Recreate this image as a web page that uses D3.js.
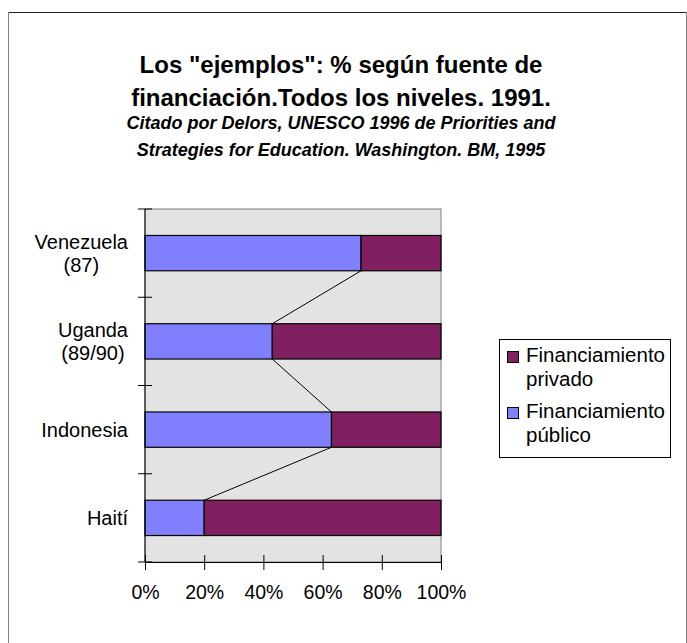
<!DOCTYPE html>
<html>
<head>
<meta charset="utf-8">
<script src="https://cdn.jsdelivr.net/npm/d3@7"></script>
<style>
    body { margin: 0; background: #fff; }
    svg { font-family: "Liberation Sans", Arial, sans-serif; }
</style>
</head>
<body>
<svg width="687" height="643"></svg>
<script>
// categories top to bottom, each label line separately
var categories = ["Venezuela (87)", "Uganda (89/90)", "Indonesia", "Haití"];
var categoryLines = [["Venezuela", "(87)"], ["Uganda", "(89/90)"], ["Indonesia"], ["Haití"]];
var publico = [73, 43, 63, 20];
var privado = [27, 57, 37, 80];
var tickValues = [0, 20, 40, 60, 80, 100];
var titleLines = ["Los \"ejemplos\": % según fuente de", "financiación.Todos los niveles. 1991."];
var subtitleLines = ["Citado por Delors, UNESCO 1996 de Priorities and", "Strategies for Education. Washington. BM, 1995"];
var seriesNames = ["Financiamiento privado", "Financiamiento público"];

var colorPublico = "#8080ff";
var colorPrivado = "#802060";

var svg = d3.select("svg");

var plot = { left: 145, top: 209, width: 296, height: 353 };

var xScale = d3.scaleLinear([0, 100], [plot.left, plot.left + plot.width]);
var yScale = d3.scaleBand(categories, [plot.top, plot.top + plot.height])
    .paddingInner(0.6)
    .paddingOuter(0.3);

// Chart frame (bottom edge is outside the picture)
svg.append("line").attr("x1", 8).attr("y1", 12.5).attr("x2", 687).attr("y2", 12.5)
    .attr("stroke", "#222").attr("stroke-width", 1);
svg.append("line").attr("x1", 8.5).attr("y1", 12).attr("x2", 8.5).attr("y2", 643)
    .attr("stroke", "#808080").attr("stroke-width", 1);
svg.append("line").attr("x1", 686.5).attr("y1", 12).attr("x2", 686.5).attr("y2", 643)
    .attr("stroke", "#808080").attr("stroke-width", 1);

// Title
var titleX = 341;
svg.selectAll(".title")
    .data(titleLines)
    .enter()
        .append("text")
        .attr("class", "title")
        .attr("x", titleX)
        .attr("y", function(d, i) { return 73 + i * 33; })
        .attr("text-anchor", "middle")
        .style("font-size", "24px")
        .style("font-weight", "bold")
        .text(function(d) { return d; });

svg.selectAll(".subtitle")
    .data(subtitleLines)
    .enter()
        .append("text")
        .attr("class", "subtitle")
        .attr("x", titleX)
        .attr("y", function(d, i) { return 129 + i * 27; })
        .attr("text-anchor", "middle")
        .style("font-size", "18px")
        .style("font-weight", "bold")
        .style("font-style", "italic")
        .text(function(d) { return d; });

// Plot area
svg.append("rect")
    .attr("x", plot.left)
    .attr("y", plot.top)
    .attr("width", plot.width)
    .attr("height", plot.height)
    .attr("fill", "#e3e3e3")
    .attr("stroke", "#808080")
    .attr("stroke-width", 1);

// Series lines between the public segments
var linePoints = [];
for (var i = 0; i < categories.length - 1; i++) {
    linePoints.push([
        xScale(publico[i]), yScale(categories[i]) + yScale.bandwidth(),
        xScale(publico[i + 1]), yScale(categories[i + 1])
    ]);
}
svg.append("g")
    .selectAll("line")
    .data(linePoints)
    .enter()
        .append("line")
        .attr("x1", function(d) { return d[0]; })
        .attr("y1", function(d) { return d[1]; })
        .attr("x2", function(d) { return d[2]; })
        .attr("y2", function(d) { return d[3]; })
        .attr("stroke", "#000")
        .attr("stroke-width", 1);

// Bars
var bars = svg.append("g");
bars.selectAll(".pub")
    .data(publico)
    .enter()
        .append("rect")
        .attr("class", "pub")
        .attr("x", xScale(0))
        .attr("y", function(d, i) { return yScale(categories[i]); })
        .attr("width", function(d) { return xScale(d) - xScale(0); })
        .attr("height", yScale.bandwidth())
        .attr("fill", colorPublico)
        .attr("stroke", "#000")
        .attr("stroke-width", 1.2);

bars.selectAll(".priv")
    .data(privado)
    .enter()
        .append("rect")
        .attr("class", "priv")
        .attr("x", function(d, i) { return xScale(publico[i]); })
        .attr("y", function(d, i) { return yScale(categories[i]); })
        .attr("width", function(d, i) { return xScale(publico[i] + d) - xScale(publico[i]); })
        .attr("height", yScale.bandwidth())
        .attr("fill", colorPrivado)
        .attr("stroke", "#000")
        .attr("stroke-width", 1.2);

// X axis
var xAxis = d3.axisBottom(xScale)
    .tickValues(tickValues)
    .tickFormat(function(d) { return d + "%"; })
    .tickSizeInner(8)
    .tickSizeOuter(0)
    .tickPadding(15);

var xAxisG = svg.append("g")
    .attr("transform", "translate(0, " + (plot.top + plot.height) + ")")
    .call(xAxis);
xAxisG.select(".domain").attr("stroke", "#000");
xAxisG.selectAll(".tick line").attr("y1", -7).attr("stroke", "#000");
xAxisG.selectAll(".tick text")
    .attr("fill", "#000")
    .style("font-size", "19.5px")
    .style("font-family", "'Liberation Sans', Arial, sans-serif");

// Y axis line and ticks at category boundaries
svg.append("line")
    .attr("x1", plot.left).attr("y1", plot.top)
    .attr("x2", plot.left).attr("y2", plot.top + plot.height)
    .attr("stroke", "#000");
var boundaries = d3.range(categories.length + 1).map(function(i) {
    return plot.top + i * yScale.step();
});
svg.append("g")
    .selectAll("line")
    .data(boundaries)
    .enter()
        .append("line")
        .attr("x1", plot.left - 7)
        .attr("x2", plot.left + 7)
        .attr("y1", function(d) { return d; })
        .attr("y2", function(d) { return d; })
        .attr("stroke", "#000");

// Category labels, centred lines in a right-aligned block
var labelRight = 128;
var lineHeight = 23;
categoryLines.forEach(function(lines, i) {
    var cy = yScale(categories[i]) + yScale.bandwidth() / 2;
    var g = svg.append("g");
    var texts = g.selectAll("text")
        .data(lines)
        .enter()
            .append("text")
            .attr("y", function(d, j) { return cy + 7 + (j - (lines.length - 1) / 2) * lineHeight; })
            .attr("text-anchor", "middle")
            .style("font-size", "20px")
            .text(function(d) { return d; });
    var maxWidth = d3.max(texts.nodes(), function(n) { return n.getComputedTextLength(); });
    texts.attr("x", labelRight - maxWidth / 2);
});

// Legend
var legend = svg.append("g");
legend.append("rect")
    .attr("x", 499.5)
    .attr("y", 339.5)
    .attr("width", 171)
    .attr("height", 118)
    .attr("fill", "#fff")
    .attr("stroke", "#000")
    .attr("stroke-width", 1);

var legendColors = [colorPrivado, colorPublico];
seriesNames.forEach(function(name, i) {
    var baseY = 362 + i * 56;
    legend.append("rect")
        .attr("x", 507.5)
        .attr("y", baseY - 10.5)
        .attr("width", 11)
        .attr("height", 11)
        .attr("fill", legendColors[i])
        .attr("stroke", "#000")
        .attr("stroke-width", 1);
    var words = name.split(" ");
    legend.selectAll(".leg" + i)
        .data(words)
        .enter()
            .append("text")
            .attr("x", 526)
            .attr("y", function(d, j) { return baseY + j * 24; })
            .style("font-size", "20.5px")
            .text(function(d) { return d; });
});
</script>
</body>
</html>
